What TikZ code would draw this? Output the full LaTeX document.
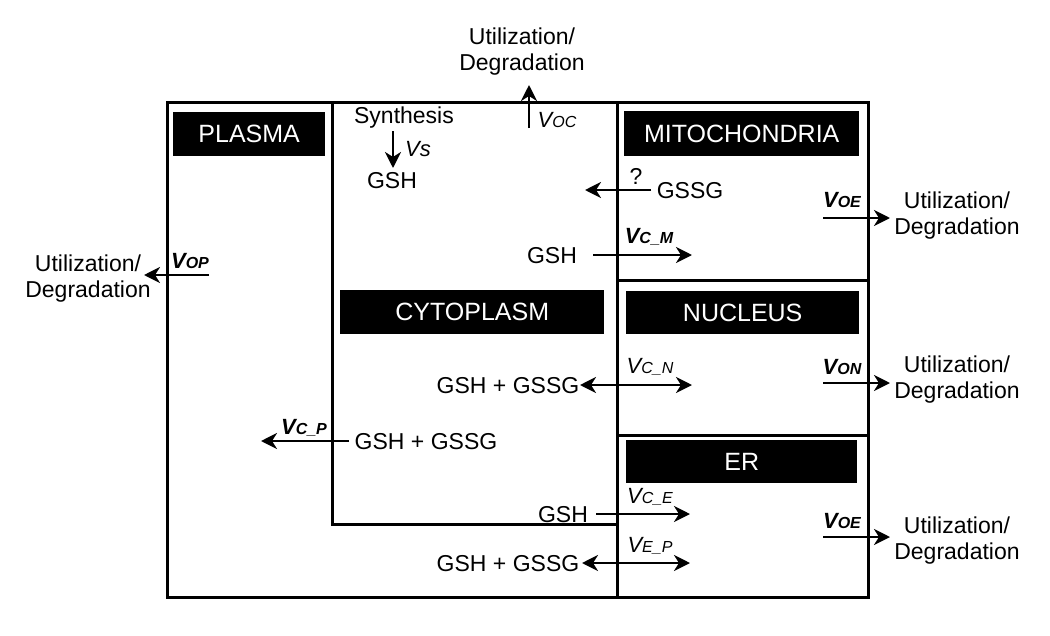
\documentclass[tikz,border=0pt]{standalone}
\usepackage{fontspec}
\setmainfont{Liberation Sans}
\usetikzlibrary{arrows.meta}
\begin{document}
\begin{tikzpicture}[x=1pt,y=-1pt,
  wall/.style={line width=3pt},
  flow/.style={line width=2.8pt,-{Stealth[length=16pt,width=16pt,inset=5pt]}},
  dflow/.style={line width=2.8pt,{Stealth[length=16pt,width=16pt,inset=5pt]}-{Stealth[length=16pt,width=16pt,inset=5pt]}},
  txt/.style={font=\fontsize{23}{26}\selectfont, inner sep=0pt, align=center},
  rate/.style={font=\fontsize{22}{24}\selectfont\itshape, inner sep=0pt},
  lab/.style={fill=black, text=white, font=\fontsize{25}{28}\selectfont, inner sep=0pt, anchor=north west}
]
\useasboundingbox (0,0) rectangle (1050,635);
\newcommand{\sm}[1]{{\fontsize{16}{16}\selectfont #1}}

% walls
\draw[wall] (167,102) rectangle (868,597);
\draw[wall] (332,102) -- (332,524) -- (617,524);
\draw[wall] (617,102) -- (617,597);
\draw[wall] (617,280) -- (868,280);
\draw[wall] (617,435) -- (868,435);

% compartment labels
\node[lab, minimum width=152pt, minimum height=44pt] (plasma) at (173,112) {PLASMA};
\node[lab, minimum width=235pt, minimum height=45pt] (mito) at (624,111) {MITOCHONDRIA};
\node[lab, minimum width=264pt, minimum height=44pt] (cyto) at (340,290) {CYTOPLASM};
\node[lab, minimum width=233pt, minimum height=43pt] (nuc) at (626,291) {NUCLEUS};
\node[lab, minimum width=231pt, minimum height=43pt] (er) at (626,440) {ER};

% top: utilization from cytoplasm
\node[txt] (utop) at (522,52) {Utilization/\\Degradation};
\coordinate (voc0) at (529,128);
\coordinate (voc1) at (529,85);
\draw[flow] (voc0) -- (voc1);
\node[rate] (voc) at (557,120) {V\sm{OC}};

% synthesis
\node[txt] (syn) at (404,118) {Synthesis};
\node[txt] (gsh1) at (392,181) {GSH};
\coordinate (s0) at (393,131);
\coordinate (s1) at (393,168);
\draw[flow] (s0) -- (s1);
\node[rate] (vs) at (418,149) {Vs};

% GSSG from mitochondria
\node[txt] (q) at (636,176) {?};
\node[txt] (gssg) at (690,191) {GSSG};
\coordinate (g0) at (651,190);
\coordinate (g1) at (585,190);
\draw[flow] (g0) -- (g1);

% GSH into mitochondria
\node[txt] (gsh2) at (552,256) {GSH};
\coordinate (m0) at (593,255);
\coordinate (m1) at (692,255);
\draw[flow] (m0) -- (m1);
\node[rate] (vcm) at (649,237) {\bfseries V\sm{C\_M}};

% mito utilization
\node[txt] (umito) at (957,216) {Utilization/\\Degradation};
\coordinate (oe0) at (823,218);
\coordinate (oe1) at (890,218);
\draw[flow] (oe0) -- (oe1);
\node[rate] (voe1) at (842,200) {\bfseries V\sm{OE}};

% plasma utilization
\node[txt] (uplas) at (88,279) {Utilization/\\Degradation};
\coordinate (op0) at (209,275);
\coordinate (op1) at (144,275);
\draw[flow] (op0) -- (op1);
\node[rate] (vop) at (190,261) {\bfseries V\sm{OP}};

% nucleus exchange
\node[txt] (gg1) at (508,386) {GSH + GSSG};
\coordinate (n0) at (580,385);
\coordinate (n1) at (692,385);
\draw[dflow] (n0) -- (n1);
\node[rate] (vcn) at (650,367) {V\sm{C\_N}};

\node[txt] (unuc) at (957,380) {Utilization/\\Degradation};
\coordinate (on0) at (823,383);
\coordinate (on1) at (890,383);
\draw[flow] (on0) -- (on1);
\node[rate] (von) at (842,367) {\bfseries V\sm{ON}};

% plasma exchange
\node[txt] (gg2) at (426,442) {GSH + GSSG};
\coordinate (p0) at (349,441);
\coordinate (p1) at (261,441);
\draw[flow] (p0) -- (p1);
\node[rate] (vcp) at (304,428) {\bfseries V\sm{C\_P}};

% ER
\node[txt] (gsh3) at (563,515) {GSH};
\coordinate (e0) at (596,514);
\coordinate (e1) at (690,514);
\draw[flow] (e0) -- (e1);
\node[rate] (vce) at (650,497) {V\sm{C\_E}};

\node[txt] (gg3) at (508,564) {GSH + GSSG};
\coordinate (ep0) at (582,563);
\coordinate (ep1) at (690,563);
\draw[dflow] (ep0) -- (ep1);
\node[rate] (vep) at (650,546) {V\sm{E\_P}};

\node[txt] (uer) at (957,541) {Utilization/\\Degradation};
\coordinate (oe2) at (823,537);
\coordinate (oe3) at (890,537);
\draw[flow] (oe2) -- (oe3);
\node[rate] (voe2) at (842,521) {\bfseries V\sm{OE}};
\end{tikzpicture}
\end{document}
